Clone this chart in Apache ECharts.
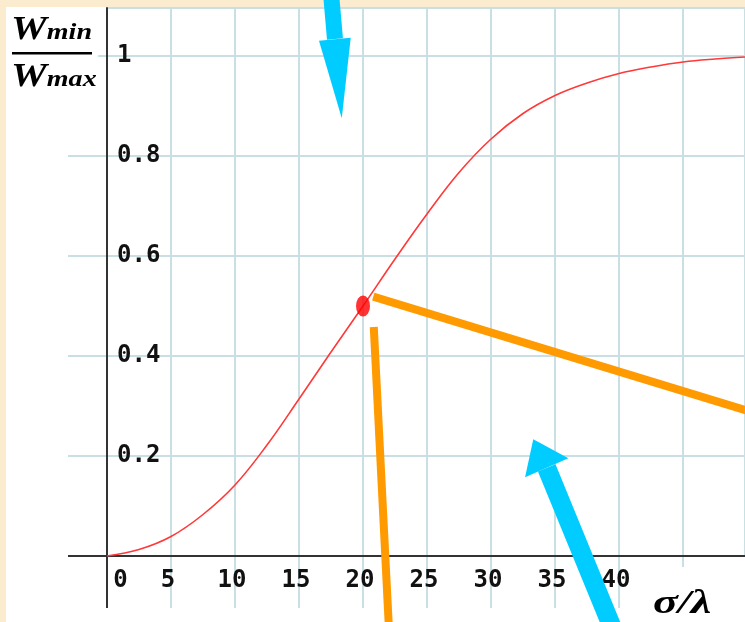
<!DOCTYPE html>
<html>
<head>
<meta charset="utf-8">
<script src="https://cdn.jsdelivr.net/npm/echarts@6/dist/echarts.min.js"></script>
<style>
html,body{margin:0;padding:0;background:#fbecd0;}
#c{width:745px;height:622px;}
</style>
</head>
<body>
<div id="c"></div>
<script>
// ---- data ----
const xTickLabels = [0, 5, 10, 15, 20, 25, 30, 35, 40];
const yTickLabels = [0.2, 0.4, 0.6, 0.8, 1];
const gridX = [5, 10, 15, 20, 25, 30, 35, 40, 45];
const gridY = [0.2, 0.4, 0.6, 0.8, 1];
const sigmaOverLambda = [0, 2.5, 5, 7.5, 10, 12.5, 15, 17.5, 20, 22.5, 25, 27.5, 30, 32.5, 35, 37.5, 40, 42.5, 45, 47.5, 49.84];
const wRatio = [0, 0.013, 0.039, 0.083, 0.142, 0.222, 0.314, 0.408, 0.500, 0.594, 0.684, 0.767, 0.834, 0.885, 0.921, 0.946, 0.965, 0.978, 0.988, 0.994, 0.998];
const markedPoint = [[20, 0.5]];

// annotations (in data units)
const orangeLines = [
  [[20.80, 0.5186], [52, 0.2752]],
  [[20.84, 0.458], [22.07, -0.168]]
];
const blueArrows = [
  { tail: [17.5, 1.125], base: [17.81, 1.034], head: [[16.56, 1.0306], [19.04, 1.0366], [18.34, 0.8754]], w: 16 },
  { tail: [39.61, -0.152], base: [34.35, 0.1764], head: [[32.66, 0.1574], [36.04, 0.1954], [33.30, 0.2334]], w: 19 }
];

const X_MAX = 49.84, Y_MAX = 1.096;
const X_OVER = -3.047, Y_OVER = -0.104;   // how far axis/grid lines overhang the plot
const gridColor = '#c9dfe4';

const chart = echarts.init(document.getElementById('c'), null, { renderer: 'canvas' });

const labelFont = { fontFamily: 'DejaVu Sans Mono', fontWeight: 'bold', fontSize: 24, color: '#111' };

const option = {
  backgroundColor: '#fbecd0',
  animation: false,
  grid: { left: 107, right: 0, top: 8, bottom: 66, containLabel: false, outerBoundsMode: 'none' },
  xAxis: {
    type: 'value', min: 0, max: X_MAX, interval: 5, z: 2,
    axisLine: { lineStyle: { color: '#333', width: 2 } },
    axisTick: { show: false },
    splitLine: { show: true, lineStyle: { color: gridColor, width: 2 } },
    axisLabel: {
      customValues: xTickLabels,
      margin: 13,
      formatter: v => v === 0 ? '{z|0}' : '{n|' + v + '}',
      rich: {
        z: Object.assign({ padding: [0, 0, 0, 27] }, labelFont),
        n: Object.assign({ padding: [0, 6, 0, 0] }, labelFont)
      }
    }
  },
  yAxis: {
    type: 'value', min: 0, max: Y_MAX, interval: 0.2, z: 2,
    axisLine: { lineStyle: { color: '#333', width: 2 } },
    axisTick: { show: false },
    splitLine: { show: true, lineStyle: { color: gridColor, width: 2 } },
    axisLabel: Object.assign({
      customValues: yTickLabels,
      inside: true, margin: 10, align: 'left',
      formatter: v => String(Math.round(v * 10) / 10)
    }, labelFont)
  },
  series: [
    {
      type: 'line', z: 3, smooth: 0.4, showSymbol: false,
      lineStyle: { color: '#ff3838', width: 1.6 },
      data: sigmaOverLambda.map((x, i) => [x, wRatio[i]])
    },
    {
      type: 'scatter', z: 4, symbol: 'circle', symbolSize: [14, 21],
      itemStyle: { color: '#ff0000' },
      data: markedPoint
    }
  ]
};
chart.setOption(option);

const P = p => chart.convertToPixel({ gridIndex: 0 }, p);
const graphics = [];
graphics.push({ type: 'rect', silent: true, z: -10, shape: { x: 6, y: 7, width: 739, height: 615 }, style: { fill: '#ffffff' } });

function seg(a, b, stroke, w, z) {
  const p = P(a), q = P(b);
  graphics.push({ type: 'line', z: z, silent: true, shape: { x1: p[0], y1: p[1], x2: q[0], y2: q[1] }, style: { stroke: stroke, lineWidth: w, lineCap: 'butt' } });
}
// overhanging grid lines
gridX.forEach(v => seg([v, 0], [v, v === 45 ? -0.022 : Y_OVER], gridColor, 2, 1));
gridY.forEach(v => seg([v === 1 ? -0.7 : X_OVER, v], [0, v], gridColor, 2, 1));
// overhanging axis lines
seg([X_OVER, 0], [0, 0], '#333', 2, 3);
seg([0, 0], [0, Y_OVER], '#333', 2, 3);

orangeLines.forEach(l => seg(l[0], l[1], '#ff9a00', 8, 50));
blueArrows.forEach(a => {
  seg(a.tail, a.base, '#00ccff', a.w, 50);
  graphics.push({ type: 'polygon', z: 51, silent: true, shape: { points: a.head.map(P) }, style: { fill: '#00ccff' } });
});

const serifStyle = { fontFamily: 'Liberation Serif', fontStyle: 'italic', fontWeight: 'bold', fill: '#000' };
const fracRich = { w: Object.assign({ fontSize: 33 }, serifStyle), s: Object.assign({ fontSize: 23, padding: [6, 0, 0, 0] }, serifStyle) };
graphics.push({ type: 'text', z: 60, silent: true, x: 11, y: 14, scaleX: 1.22, style: { text: '{w|W}{s|min}', rich: fracRich } });
graphics.push({ type: 'rect', z: 60, silent: true, shape: { x: 12, y: 52, width: 80, height: 2.5 }, style: { fill: '#000' } });
graphics.push({ type: 'text', z: 60, silent: true, x: 11, y: 61, scaleX: 1.22, style: { text: '{w|W}{s|max}', rich: fracRich } });
graphics.push({ type: 'text', z: 60, silent: true, x: 653, y: 588, scaleX: 1.4, style: Object.assign({ text: 'σ/λ', fontSize: 33 }, serifStyle) });
chart.setOption({ graphic: graphics });
</script>
</body>
</html>
